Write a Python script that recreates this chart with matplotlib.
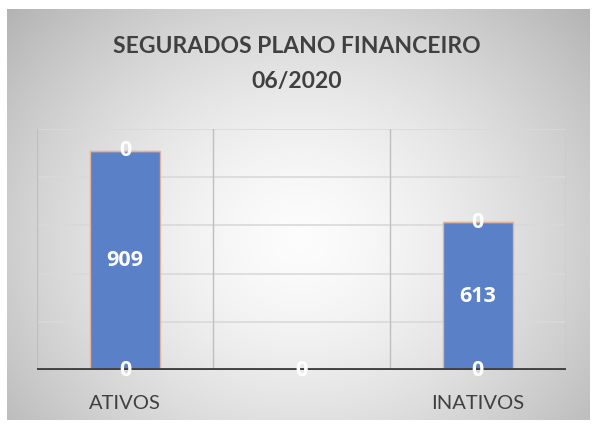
import numpy as np
import matplotlib
matplotlib.use("Agg")
import matplotlib.pyplot as plt

categories = ["ATIVOS", "", "INATIVOS"]
series_bottom = [0, 0, 0]
series_main = [909, 0, 613]
series_top = [0, 0, 0]
title = "SEGURADOS PLANO FINANCEIRO\n06/2020"

W, H = 593, 426
fig = plt.figure(figsize=(W / 100, H / 100), dpi=100)
fig.patch.set_facecolor("white")

# background gradient panel
bg = fig.add_axes([0, 0, 1, 1])
bg.set_xlim(0, W)
bg.set_ylim(H, 0)
bg.axis("off")
x0, x1, y0, y1 = 7, 590, 9, 420
xx, yy = np.meshgrid(np.linspace(x0, x1, 300), np.linspace(y0, y1, 220))
cx, cy = 300, 240
r = np.sqrt(((xx - cx) / 330) ** 2 + ((yy - cy) / 290) ** 2)
val = 0.99 - 0.22 * np.clip(r, 0, 1.25) ** 1.5
img = np.dstack([val, val, val])
bg.imshow(img, extent=[x0, x1, y1, y0], aspect="auto", interpolation="bilinear", zorder=0)

left, right, top, bottom = 37, 566, 129, 370
ax = fig.add_axes([left / W, 1 - bottom / H, (right - left) / W, (bottom - top) / H])
ax.set_facecolor("none")
ax.set_xlim(-0.5, 2.5)
ax.set_ylim(0, 1000)
for s in ax.spines.values():
    s.set_visible(False)
ax.set_yticks([])
ax.set_xticks(range(len(categories)))
ax.set_xticklabels(categories, fontsize=14.5, color="#404040", family="Lato")
ax.tick_params(axis="x", length=0, pad=18)

for yv in [200, 400, 600, 800, 1000]:
    ax.axhline(yv, color="#d9d9d9", lw=1.2, zorder=1)
for xv in [-0.5, 0.5, 1.5, 2.5]:
    ax.axvline(xv, color="#bfbfbf", lw=1.0, zorder=1)

x = np.arange(len(categories))
width = 0.4
bcol = "#5A80C8"
ax.bar(x, series_bottom, width, color=bcol, edgecolor="#e0b39c", lw=1.0, zorder=2)
ax.bar(x, series_main, width, bottom=series_bottom, color=bcol, edgecolor="#e0b39c", lw=1.0, zorder=2)
base2 = np.array(series_bottom) + np.array(series_main)
ax.bar(x, series_top, width, bottom=base2, color=bcol, edgecolor="#e0b39c", lw=1.0, zorder=2)

ax.axhline(0, color="#404040", lw=3.5, zorder=3)

lab = dict(color="white", fontsize=15.5, fontweight="bold", ha="center", va="center",
           family="Open Sans", zorder=5)
for i in range(len(categories)):
    ax.text(x[i], series_bottom[i] / 2, str(series_bottom[i]), **lab)
    if series_main[i] != 0:
        ax.text(x[i], series_bottom[i] + series_main[i] / 2, str(series_main[i]), **lab)
    ax.text(x[i], base2[i] + series_top[i] / 2, str(series_top[i]), **lab)

fig.text(0.5, 1 - 64 / H, title, ha="center", va="center", fontsize=16.5, fontweight="bold",
         color="#404040", family="Lato", linespacing=1.85)

fig.savefig("out.png", dpi=100)
